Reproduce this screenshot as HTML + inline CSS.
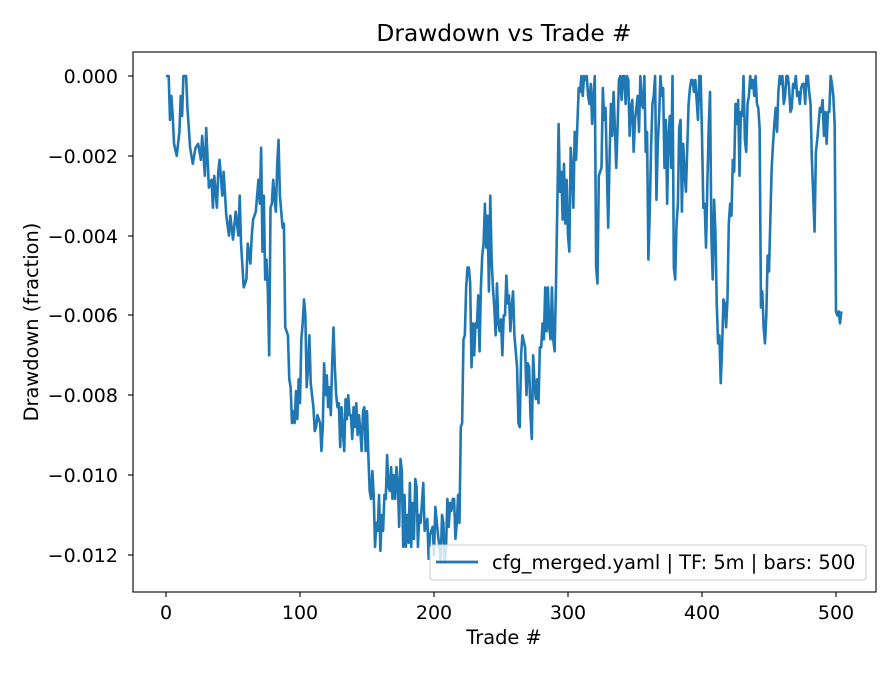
<!DOCTYPE html>
<html><head><meta charset="utf-8"><style>
html,body{margin:0;padding:0;background:#fff}
svg text{font-family:"DejaVu Sans","Liberation Sans",sans-serif;fill:#000}
</style></head><body>
<svg width="896" height="672" viewBox="0 0 896 672" xmlns="http://www.w3.org/2000/svg">
<rect width="896" height="672" fill="#fff"/>
<text x="504" y="41" font-size="23.3" text-anchor="middle">Drawdown vs Trade #</text>
<g transform="translate(166,76) scale(1.34,39.9)">
<polyline fill="none" stroke="#1f77b4" stroke-width="2.6" vector-effect="non-scaling-stroke" stroke-linejoin="round" points="0,0 2,0 3,1.1 4,0.5 5,1 6,1.7 8,2 10,1.4 11,0.5 12,1 13,0 15,0 16,0.8 18,1.8 20,2.2 22,1.8 24,1.7 26,2.1 27,1.5 29,2.5 30,1.3 32,2.8 34,2.6 35,3.3 36,2.5 38,3.3 39,2.4 40,2.1 42,3 43,2.4 45,3.5 47,4 48,3.5 50,4.1 52,3.4 54,4 55,3 56,4.2 58,5.3 60,5.1 61,4.2 63,4.7 64,4 65,3.6 67,3.4 68,3 69,2.6 70,3.2 71,1.8 72,4.4 73,3 74,5.1 75,4.6 76,5.4 77,7 78,3.3 79,3.2 80,2.6 81,3.1 82,3.4 83,2.2 84,1.6 85,3 87,3.8 88,3.7 89,6.3 91,6.5 92,7.6 93,7.8 94,8.7 95,8.4 96,8.7 97,7.9 98,8.6 99,7.6 100,8.2 101,6.6 102,6.2 103,5.6 104,6 105,7.8 106,7.3 107,6.5 108,7.7 110,8.3 111,8.9 112,8.8 113,8.5 115,8.7 116,9.4 117,8.8 118,7.2 119,8 120,7.5 121,8.3 122,7.8 123,8.5 124,7.2 125,6.3 126,7.3 127,8 128,8.3 129,8.2 130,9.3 131,8.3 132,8.9 133,9.4 134,8.1 135,8.6 136,8 137,8.5 138,8.5 139,9.1 140,8.3 141,8.8 142,8.2 143,9 144,8.5 145,8.9 146,9.4 147,8.4 148,8.3 149,9.4 150,8.4 151,9.5 152,10.4 153,10.6 154,9.9 155,10.5 156,11.8 157,11.2 158,11.4 159,10.5 160,11.9 161,11 162,11.4 163,10.5 164,10.6 165,9.5 166,10.3 167,10.4 168,9.8 169,10.6 170,10 171,10.6 172,9.8 173,10.2 174,11.3 175,9.6 176,9.9 177,11.8 178,10.5 179,11.8 180,11 181,11.7 182,10.2 183,11.8 184,10.7 185,11.6 186,10.1 187,10.3 188,11.8 189,11 190,11.2 192,10.2 193,11.4 195,11.1 196,12.1 197,11.5 199,11.3 200,12 201,10.8 203,11.5 204,11.8 205,12.2 206,11 207,11.2 208,12.2 209,11.8 210,10.6 211,11.3 212,10.7 213,10.9 214,10.6 215,10.6 216,11.6 217,11.2 218,10.5 219,11.2 220,8.8 221,8.7 222,6.6 223,6.5 224,5.3 225,4.8 226,4.8 227,5.2 228,7.3 229,6.2 230,7 231,6.2 232,6.3 233,5.5 234,6.9 235,5.3 236,4.5 237,4.2 238,3.2 239,4.3 240,3.5 241,5.4 242,3 243,4.6 244,5.3 245,5.8 246,6.5 247,5.2 248,6.2 249,6.4 250,6.1 251,7 252,6 253,6 254,5 255,5.7 256,5.5 257,6.4 258,5.8 259,5.4 260,6.5 262,7.3 263,8.7 264,8.8 265,7 266,6.5 268,6.8 269,8 270,7.2 271,7.3 272,8.5 273,9.1 274,7 275,7.7 276,8.1 277,7.6 278,8.2 279,6.8 280,6.8 281,6.2 282,6.6 283,5.3 284,6.4 285,5.3 286,6.3 287,6.6 288,5.3 289,6.6 290,6.9 291,5.3 292,3.3 293,1.2 294,2.9 295,2.4 296,3.6 297,2.2 298,3.7 299,2.6 300,4 301,4.4 302,1.8 303,2.3 304,3.3 305,1.4 306,2.1 307,1.2 308,0.3 309,0.4 310,0 311,0.5 312,0 313,0.1 314,0 315,0.5 316,0.7 317,0.2 318,1.2 319,0.5 320,0 321,4.8 322,5.2 323,2.5 325,2.3 326,0.3 327,1.1 328,0.8 329,2.3 330,3.8 331,2.1 332,0.7 333,1.5 334,0.4 335,1.3 336,2.3 337,1.3 338,0.1 339,0 340,0.6 341,0 342,0 343,0.7 344,0 345,0.1 346,1.5 347,0.8 348,0.6 349,1.9 350,1.1 351,0.8 352,0.5 353,1.4 354,0 355,0.7 356,0.8 357,0 358,1.9 359,1.4 360,4.6 361,3.4 362,1.8 363,0.7 364,0.5 365,0 366,3.1 367,1.7 368,1 369,0 370,0.5 371,0.3 372,2.3 373,1.1 374,3.2 375,1.5 376,1 377,2.3 378,0 379,4.8 380,5.1 381,3.7 382,3.2 383,1.3 384,1.1 385,3.4 386,1.7 387,2.4 388,2.9 389,1.8 390,0.7 391,0.3 392,0.1 393,0.1 394,0.4 395,0.1 396,0.6 397,1.1 398,0 399,0 400,1.5 401,3.3 402,3.2 403,4.3 404,2.7 405,1.3 406,0.4 407,4 408,5.1 409,3.1 410,3.9 411,5.7 412,6.7 413,6.5 414,7.7 415,6.8 416,5.6 417,5.7 418,6.3 419,5.6 420,3.7 421,3.2 422,3.5 423,2.1 424,2.4 425,0.7 426,1.2 427,0.6 428,2.5 429,0.9 430,1 431,0 432,1.6 433,1.9 434,0.7 435,0.5 436,0 437,0.3 438,0.1 439,0.5 440,0 441,0.7 442,0.8 443,1.3 444,5.8 445,5.4 446,6.3 447,6.7 448,6 449,4.5 450,4.9 451,3.6 452,2.3 453,1.7 454,1.2 455,0.8 456,1.4 457,0.4 458,0 459,0.2 460,0 461,0.7 462,0.5 463,0 464,0 465,0.3 466,0.9 467,0.8 468,0.2 469,0.3 470,0 471,0.5 472,0.4 473,0.7 474,0.3 475,0.2 476,0.2 477,0.7 478,0 479,0 480,0.4 481,0.7 482,2.1 483,3 484,3.9 485,1.9 486,1.6 487,1.2 488,0.8 489,0.9 490,0.6 491,1.5 492,0.9 493,1.7 494,0.9 495,0.9 496,0 497,0.2 498,0.5 499,1.2 500,5.9 501,6 502,5.9 503,6.2 504,5.9"/>
</g>
<rect x="133" y="52" width="743" height="540" fill="none" stroke="#000" stroke-width="1.1"/>
<g stroke="#000" stroke-width="1.1">
<line x1="166" y1="592" x2="166" y2="597"/><line x1="300" y1="592" x2="300" y2="597"/><line x1="434" y1="592" x2="434" y2="597"/><line x1="568" y1="592" x2="568" y2="597"/><line x1="702" y1="592" x2="702" y2="597"/><line x1="836" y1="592" x2="836" y2="597"/>
<line x1="128" y1="76" x2="133" y2="76"/><line x1="128" y1="156" x2="133" y2="156"/><line x1="128" y1="236" x2="133" y2="236"/><line x1="128" y1="315" x2="133" y2="315"/><line x1="128" y1="395" x2="133" y2="395"/><line x1="128" y1="475" x2="133" y2="475"/><line x1="128" y1="555" x2="133" y2="555"/>
</g>
<g font-size="19" text-anchor="middle">
<text x="166" y="619">0</text><text x="300" y="619">100</text><text x="434" y="619">200</text><text x="568" y="619">300</text><text x="702" y="619">400</text><text x="836" y="619">500</text>
</g>
<g font-size="19" text-anchor="end">
<text x="118" y="83">0.000</text><text x="118" y="163">−0.002</text><text x="118" y="243">−0.004</text><text x="118" y="322">−0.006</text><text x="118" y="402">−0.008</text><text x="118" y="482">−0.010</text><text x="118" y="562">−0.012</text>
</g>
<text x="504" y="644" font-size="19.4" text-anchor="middle">Trade #</text>
<text transform="translate(38,322) rotate(-90)" font-size="19.4" text-anchor="middle">Drawdown (fraction)</text>
<rect x="430" y="545" width="436" height="35" rx="3" fill="#fff" fill-opacity="0.8" stroke="#ccc"/>
<line x1="436" y1="562" x2="478" y2="562" stroke="#1f77b4" stroke-width="2.8"/>
<text x="492" y="569" font-size="19.4">cfg_merged.yaml | TF: 5m | bars: 500</text>
</svg>
</body></html>
